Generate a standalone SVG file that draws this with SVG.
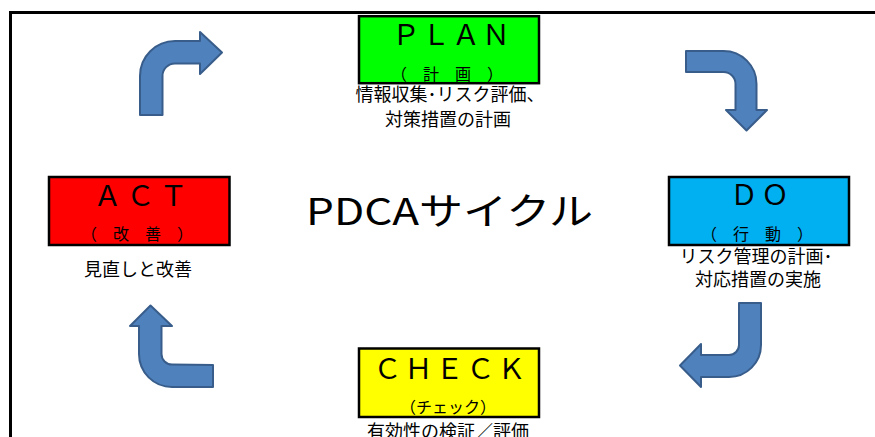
<svg xmlns="http://www.w3.org/2000/svg" width="875" height="437" viewBox="0 0 875 437">
<style>
.box{stroke:#000;stroke-width:2.5}
.big{font-family:"Noto Sans CJK JP","Noto Sans",sans-serif;font-size:28px;fill:#000;text-anchor:middle;letter-spacing:3px}
.sub{font-family:"Noto Sans CJK JP",sans-serif;font-size:16px;fill:#000;text-anchor:middle}
.desc{font-family:"Noto Sans CJK JP",sans-serif;font-size:18px;fill:#000;text-anchor:middle}
.arr{fill:#4F81BD;stroke:#385D8A;stroke-width:2;stroke-linejoin:round}
</style>
<rect x="0" y="0" width="875" height="437" fill="#fff"/>
<rect x="10.5" y="12.5" width="900" height="500" fill="none" stroke="#000" stroke-width="3"/>

<g id="connectors">
<path class="arr" d="M 140 115 L 140 76 A 35 35 0 0 1 175 41 L 200 41 L 200 32 L 222 52.5 L 200 74 L 200 63.5 L 175 63.5 A 12.5 12.5 0 0 0 162.5 76 L 162.5 115 Z"/>
<path class="arr" d="M 686 51 L 723.5 51 A 33 33 0 0 1 756.5 84 L 756.5 110 L 767 110 L 746.5 130.5 L 726 110 L 735.5 110 L 735.5 84 A 12 12 0 0 0 723.5 72 L 686 72 Z"/>
<path class="arr" d="M 739 303 L 761 303 L 761 345 A 32 32 0 0 1 729 377 L 701 377 L 701 387 L 680 365.5 L 701 344 L 701 355 L 729 355 A 10 10 0 0 0 739 345 Z"/>
<path class="arr" d="M 213 365 L 213 387 L 172 387 A 33 33 0 0 1 139 354 L 139 326 L 130 326 L 150.5 305.5 L 172 326 L 161.5 326 L 161.5 354 A 10.5 10.5 0 0 0 172 364.5 Z"/>
</g>

<g id="plan">
<rect class="box" x="359" y="16.2" width="180" height="67" fill="#00FF00"/>
<text class="big" x="452" y="45" style="letter-spacing:2px">ＰＬＡＮ</text>
<text class="sub" x="447" y="80">（　計　画　）</text>
<text class="desc" x="450" y="101">情報収集･リスク評価、</text>
<text class="desc" x="448" y="126">対策措置の計画</text>
</g>

<g id="do">
<rect class="box" x="669" y="177" width="180" height="68" fill="#00B0F0"/>
<text class="big" x="761" y="205">ＤＯ</text>
<text class="sub" x="757" y="240">（　行　動　）</text>
<text class="desc" x="756" y="263">リスク管理の計画･</text>
<text class="desc" x="758" y="286">対応措置の実施</text>
</g>

<g id="check">
<rect class="box" x="359" y="348.5" width="180" height="68.5" fill="#FFFF00"/>
<text class="big" x="451" y="379">ＣＨＥＣＫ</text>
<text class="sub" x="448" y="413">（チェック）</text>
<text class="desc" x="448" y="437.5">有効性の検証／評価</text>
</g>

<g id="act">
<rect class="box" x="49" y="177" width="180.5" height="68" fill="#FF0000"/>
<text class="big" x="143" y="206" style="letter-spacing:5px">ＡＣＴ</text>
<text class="sub" x="137" y="240">（　改　善　）</text>
<text class="desc" x="138" y="276">見直しと改善</text>
</g>

<g id="title">
<text x="306" y="225" font-family="Noto Sans CJK JP, sans-serif" font-size="37" textLength="287" lengthAdjust="spacingAndGlyphs" fill="#000">PDCAサイクル</text>
</g>
</svg>
